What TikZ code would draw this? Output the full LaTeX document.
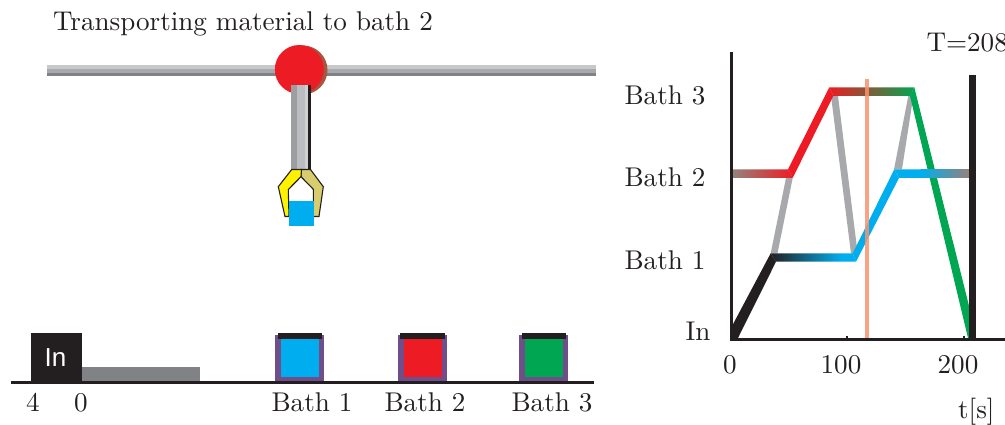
\documentclass[tikz,border=0pt]{standalone}
\usepackage{fontspec}
\newfontfamily\sansf{Liberation Sans}
\definecolor{ink}{HTML}{231F20}
\definecolor{rred}{HTML}{ED1C24}
\definecolor{rblue}{HTML}{00AEEF}
\definecolor{rgreen}{HTML}{00A651}
\definecolor{rgray}{HTML}{A7A9AC}
\definecolor{dgray}{HTML}{808285}
\definecolor{rpurple}{HTML}{6F4E8A}
\definecolor{rbrown}{HTML}{94827C}
\definecolor{rshadow}{HTML}{A8573F}
\definecolor{rkhaki}{HTML}{D7CC6E}
\definecolor{rorange}{HTML}{F7946F}
\definecolor{armdark}{HTML}{9D9EA2}
\definecolor{armmid}{HTML}{BCBDC0}
\definecolor{armlight}{HTML}{CFD0D2}
\definecolor{raillight}{HTML}{C7C8CA}
\tikzset{
  lab/.style={inner sep=0pt,anchor=base,scale=2.71,font=\fontsize{10}{12}\selectfont,text=ink},
  claw/.style={draw=ink,line width=1.1pt,line join=miter},
}
\begin{document}
\begin{tikzpicture}[x=1pt,y=-1pt]
\useasboundingbox (0,0) rectangle (1005,425);
% rail
\fill[raillight] (46.7,65) rectangle (596,69);
\fill[rgray] (46.7,69) rectangle (596,73.3);
\fill[dgray] (46.7,73.3) rectangle (596,76);
% hub
\fill[rshadow] (303,70) circle (24.5);
\fill[rred] (299.3,69.5) circle (24.5);
% arm
\fill[armdark] (291,85) rectangle (297,169.5);
\fill[armmid] (297,85) rectangle (305,169.5);
\fill[armlight] (305,85) rectangle (308,169.5);
\fill[ink] (308,85) rectangle (311,169.5);
% claw
\filldraw[claw,fill=rkhaki] (301.5,169.5) -- (310.5,169.5) -- (323.3,186.7) -- (319,216.5) -- (313.3,216.5) -- (313.3,189.3) -- (301,176.7) -- cycle;
\filldraw[claw,fill=yellow] (291.7,169.5) -- (301.5,169.5) -- (301,176.7) -- (288.3,189.5) -- (289,216.5) -- (285,216.5) -- (278.3,186.7) -- cycle;
\fill[rblue] (289,201) rectangle (314,225.7);
% ground
\fill[dgray] (82,367) rectangle (200,382);
\fill[ink] (31,333) rectangle (82,382);
\node[inner sep=0pt,text=white,font=\sansf\fontsize{26}{30}\selectfont] (inbox) at (55.5,358) {In};
% baths
\foreach \px/\ix/\lx/\c in {275.3/281/277.7/rblue,398.3/403.7/400.3/rred,519.3/525/521.7/rgreen}{
  \fill[rpurple] (\px,335) rectangle ++(48.6,47);
  \fill[\c] (\ix,339.3) rectangle ++(38,38);
  \fill[ink] (\lx,332.7) rectangle ++(44.4,6.6);
}
\draw[ink,line width=3pt] (11,382.3) -- (594,382.3);
% left labels
\node[lab] (four) at (33,411) {4};
\node[lab] (zero) at (81,411) {0};
\node[lab] (b1) at (312,411) {Bath 1};
\node[lab] (b2) at (425,411) {Bath 2};
\node[lab] (b3) at (552,411) {Bath 3};
\node[lab,anchor=base west] (title) at (52.5,31) {Transporting material to bath 2};
% chart: transitions
\fill[rgray] (786,178) -- (792.7,178) -- (777.5,253.3) -- (770.7,253.3) -- cycle;
\fill[rgray] (831,96) -- (838,96) -- (858,256) -- (851,253.3) -- cycle;
\fill[rgray] (908.3,96) -- (914.3,90) -- (902,169.3) -- (894,169.3) -- cycle;
% chart: moves
\fill[ink] (770.7,253.3) -- (776,261.7) -- (738,338) -- (731.5,338) -- (731.5,327) -- cycle;
\fill[rred] (788,169.3) -- (792.7,178) -- (833.3,96) -- (829.3,87.3) -- cycle;
\fill[rblue] (852.7,253.3) -- (856,261.7) -- (899,178) -- (894.3,169.3) -- cycle;
\fill[rgreen] (914.3,87.3) -- (970,310) -- (970,338) -- (968,338) -- (910,96) -- cycle;
% chart: stays
\shade[left color=rbrown,right color=rred] (733,169.3) -- (788,169.3) -- (792.7,178) -- (733,178) -- cycle;
\shade[left color=ink,right color=rblue] (770.7,253.3) -- (842,253.3) -- (842,261.7) -- (776,261.7) -- cycle;
\fill[rblue] (841.5,253.3) -- (852.7,253.3) -- (856,261.7) -- (841.5,261.7) -- cycle;
\shade[left color=rred,right color=rgreen] (829.3,87.3) -- (914.3,87.3) -- (910,96) -- (833.3,96) -- cycle;
\fill[rblue] (894.3,169.3) -- (921,169.3) -- (921,178) -- (899,178) -- cycle;
\shade[left color=rblue,right color=rbrown] (920.5,169.3) rectangle (969,178);
% chart: cursor and axes
\fill[rorange,opacity=.85] (865,79) rectangle (869,338);
\fill[ink] (969,75) rectangle (975.5,340);
\fill[ink] (846,335.5) rectangle (848,338);
\fill[ink] (962.5,335.5) rectangle (964.5,338);
\draw[ink,line width=3.6pt] (731.5,52) -- (731.5,339.5) -- (1005,339.5);
% chart labels
\node[lab] (y3) at (665,104.5) {Bath 3};
\node[lab] (y2) at (665,187) {Bath 2};
\node[lab] (y1) at (665,269.5) {Bath 1};
\node[lab,anchor=base east] (y0) at (711,340) {In};
\node[lab] (x0) at (730,373.5) {0};
\node[lab] (x1) at (841,373.5) {100};
\node[lab] (x2) at (958,373.5) {200};
\node[lab,anchor=base east] (xl) at (995,418) {t[s]};
\node[lab,anchor=base west] (tv) at (926,51.7) {T=208};
\end{tikzpicture}
\end{document}
